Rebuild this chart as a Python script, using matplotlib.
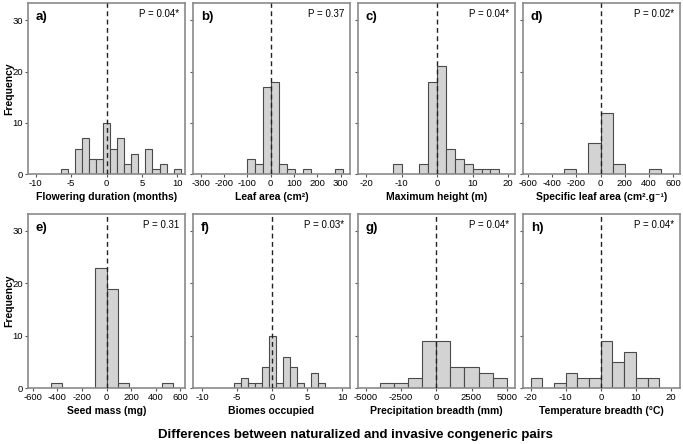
import numpy as np
import matplotlib
matplotlib.use("Agg")
import matplotlib.pyplot as plt

plt.rcParams['font.family'] = ['Liberation Sans', 'DejaVu Sans']
plt.rcParams['axes.unicode_minus'] = False

# histogram data: first bin edge, bin width, counts per bin
panel_labels = ['a)', 'b)', 'c)', 'd)', 'e)', 'f)', 'g)', 'h)']
p_values = ['P = 0.04*', 'P = 0.37', 'P = 0.04*', 'P = 0.02*',
            'P = 0.31', 'P = 0.03*', 'P = 0.04*', 'P = 0.04*']
x_labels = ['Flowering duration (months)', 'Leaf area (cm²)', 'Maximum height (m)',
            'Specific leaf area (cm².g⁻¹)', 'Seed mass (mg)', 'Biomes occupied',
            'Precipitation breadth (mm)', 'Temperature breadth (°C)']

flower_start, flower_width = -6.5, 1.0
flower_counts = [1, 0, 5, 7, 3, 3, 10, 5, 7, 2, 4, 0, 5, 1, 2, 0, 1]

leaf_start, leaf_width = -103.5, 34.5
leaf_counts = [3, 2, 17, 18, 2, 1, 0, 1, 0, 0, 0, 1]

height_start, height_width = -12.5, 2.5
height_counts = [2, 0, 0, 2, 18, 21, 5, 3, 2, 1, 1, 1]

sla_start, sla_width = -300, 100
sla_counts = [1, 0, 6, 12, 2, 0, 0, 1]

seed_start, seed_width = -455, 91
seed_counts = [1, 0, 0, 0, 23, 19, 1, 0, 0, 0, 1]

biome_start, biome_width = -5.5, 1.0
biome_counts = [1, 2, 1, 1, 4, 10, 1, 6, 4, 1, 0, 3, 1]

precip_start, precip_width = -4000, 1000
precip_counts = [1, 1, 2, 9, 9, 4, 4, 3, 2]

temp_start, temp_width = -20, 10 / 3
temp_counts = [2, 0, 1, 3, 2, 2, 9, 5, 7, 2, 2]

starts = [flower_start, leaf_start, height_start, sla_start,
          seed_start, biome_start, precip_start, temp_start]
widths = [flower_width, leaf_width, height_width, sla_width,
          seed_width, biome_width, precip_width, temp_width]
counts = [flower_counts, leaf_counts, height_counts, sla_counts,
          seed_counts, biome_counts, precip_counts, temp_counts]

x_ticks = [[-10, -5, 0, 5, 10], [-300, -200, -100, 0, 100, 200, 300],
           [-20, -10, 0, 10, 20], [-600, -400, -200, 0, 200, 400, 600],
           [-600, -400, -200, 0, 200, 400, 600], [-10, -5, 0, 5, 10],
           [-5000, -2500, 0, 2500, 5000], [-20, -10, 0, 10, 20]]
x_lims = [(-11.1, 11.1), (-333, 340), (-22.3, 21.9), (-640, 655),
          (-640, 640), (-11.3, 11.1), (-5570, 5590), (-22.2, 22.6)]

fig = plt.figure(figsize=(6.83, 4.44), dpi=100)

lefts = [28, 193, 358, 523]
W = 683.0
H = 444.0
rows = [(3.3, 174.3, 33.3), (214, 388.3, 33.2)]

for i in range(8):
    r, c = divmod(i, 4)
    top, bot, ymax = rows[r]
    ax = fig.add_axes([lefts[c] / W, 1 - bot / H, 157 / W, (bot - top) / H])

    cnt = np.array(counts[i])
    edges = starts[i] + widths[i] * np.arange(len(cnt))
    keep = cnt > 0
    ax.bar(edges[keep], cnt[keep], width=widths[i], align='edge',
           color='#d3d3d3', edgecolor='#4a4a4a', linewidth=0.8, zorder=2)
    ax.axvline(0, color='#222222', linestyle=(0, (3.5, 2.5)), linewidth=1.0, zorder=3)

    ax.set_xlim(*x_lims[i])
    ax.set_ylim(0, ymax)
    ax.set_xticks(x_ticks[i])
    ax.set_yticks([0, 10, 20, 30])
    ax.tick_params(axis='both', labelsize=6.8, length=2.5, width=0.8,
                   color='#555555', pad=1)
    if c == 0:
        fig.text(9 / W, 1 - (top + bot) / 2 / H, 'Frequency', rotation=90,
                 fontsize=7.5, fontweight='bold', ha='center', va='center')
    else:
        ax.set_yticklabels([])
    for s in ax.spines.values():
        s.set_color('#8a8a8a')
        s.set_linewidth(1.2)

    ax.set_xlabel(x_labels[i], fontsize=7.5, fontweight='bold', labelpad=3)
    ax.text(0.05, 0.955, panel_labels[i], transform=ax.transAxes,
            fontsize=9.5, fontweight='bold', va='top', ha='left')
    ax.text(0.965, 0.965, p_values[i], transform=ax.transAxes,
            fontsize=7, va='top', ha='right')

fig.text(0.52, 0.006, 'Differences between naturalized and invasive congeneric pairs',
         ha='center', va='bottom', fontsize=9.5, fontweight='bold')

fig.savefig('out.png', dpi=100)
